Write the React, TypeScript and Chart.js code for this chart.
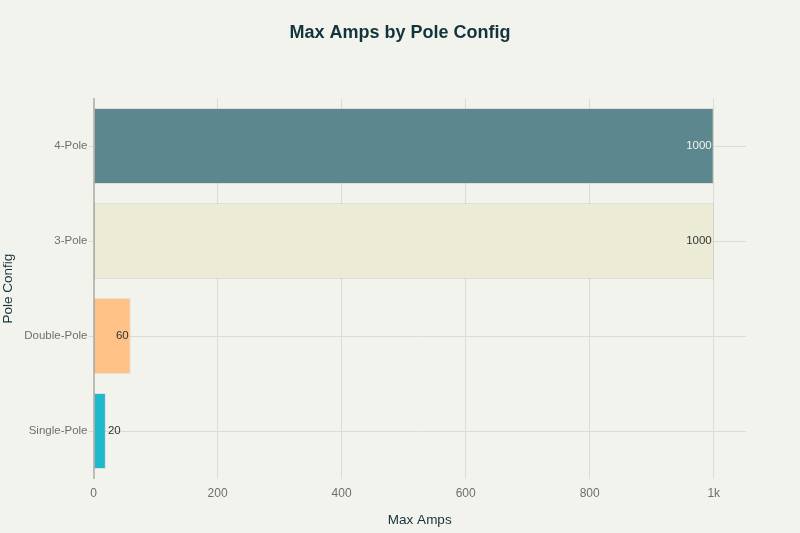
import React, { useRef, useEffect } from 'react';
import Chart from 'chart.js/auto';

const poleConfigs = ['4-Pole', '3-Pole', 'Double-Pole', 'Single-Pole'];
const maxAmps = [1000, 1000, 60, 20];
const barColors = ['#5D878F', '#ECEBD5', '#FFC185', '#1FB8CD'];
const labelColors = ['#F3F3EE', '#333333', '#333333', '#333333'];
const xTickValues = [0, 200, 400, 600, 800, 1000];
const xTickLabels = ['0', '200', '400', '600', '800', '1k'];

const bgColor = '#F3F3EE';
const gridColor = '#DCDCD6';
const fontFamily = '"Liberation Sans", Arial, sans-serif';

// fills the canvas background
const background = {
  id: 'background',
  beforeDraw(chart: any) {
    const ctx = chart.ctx;
    ctx.save();
    ctx.fillStyle = bgColor;
    ctx.fillRect(0, 0, chart.width, chart.height);
    ctx.restore();
  },
};

// value labels: inside the bar end if they fit, else just outside
const barLabels = {
  id: 'barLabels',
  afterDatasetsDraw(chart: any) {
    const ctx = chart.ctx;
    const meta = chart.getDatasetMeta(0);
    ctx.save();
    ctx.font = `11.5px ${fontFamily}`;
    ctx.textBaseline = 'middle';
    meta.data.forEach((bar: any, i: number) => {
      const text = String(maxAmps[i]);
      const w = ctx.measureText(text).width;
      const barLen = bar.x - bar.base;
      if (w + 6 < barLen) {
        ctx.textAlign = 'right';
        ctx.fillStyle = labelColors[i];
        ctx.fillText(text, bar.x - 2, bar.y);
      } else {
        ctx.textAlign = 'left';
        ctx.fillStyle = '#333333';
        ctx.fillText(text, bar.x + 2, bar.y);
      }
    });
    ctx.restore();
  },
};

const App: React.FC = () => {
  const canvasRef = useRef<HTMLCanvasElement | null>(null);

  useEffect(() => {
    document.body.style.margin = '0';
    document.body.style.background = bgColor;
    if (!canvasRef.current) return;
    const chart = new Chart(canvasRef.current, {
      type: 'bar',
      data: {
        labels: poleConfigs,
        datasets: [
          {
            data: maxAmps,
            backgroundColor: barColors,
            borderColor: 'rgba(0,0,0,0.08)',
            borderWidth: 1,
            borderSkipped: false,
            categoryPercentage: 1,
            barPercentage: 0.8,
          },
        ],
      },
      options: {
        indexAxis: 'y',
        responsive: false,
        animation: false,
        layout: { padding: 0 },
        scales: {
          x: {
            type: 'linear',
            min: 0,
            max: 1052,
            afterBuildTicks: (scale: any) => {
              scale.ticks = xTickValues.map((v) => ({ value: v }));
            },
            afterFit: (scale: any) => {
              scale.height = 54.5;
            },
            ticks: {
              padding: 8,
              color: '#6E6E6E',
              font: { family: fontFamily, size: 12 },
              callback: (value: any) => xTickLabels[xTickValues.indexOf(Number(value))] ?? '',
            },
            grid: {
              color: (c: any) => (c.tick && c.tick.value === 0 ? 'rgba(0,0,0,0)' : gridColor),
              lineWidth: 1,
              drawTicks: false,
            },
            border: { display: false },
            title: {
              display: true,
              text: 'Max Amps',
              color: '#13343B',
              font: { family: fontFamily, size: 13.5 },
              padding: { top: 0, bottom: 5 },
            },
          },
          y: {
            afterFit: (scale: any) => {
              scale.width = 93.5;
            },
            ticks: {
              padding: 1,
              color: '#6E6E6E',
              font: { family: fontFamily, size: 11.5 },
            },
            grid: {
              offset: false,
              color: gridColor,
              lineWidth: 1,
              tickLength: 5,
            },
            border: { display: true, color: '#BDBDB8', width: 2 },
            title: {
              display: true,
              text: 'Pole Config',
              color: '#13343B',
              font: { family: fontFamily, size: 13.5 },
              padding: { top: 0, bottom: 0 },
            },
          },
          // empty right-hand margin so the title stays centred on the page
          yRight: {
            type: 'category',
            position: 'right',
            afterFit: (scale: any) => {
              scale.width = 54;
            },
            ticks: { display: false },
            grid: { display: false },
            border: { display: false },
          },
        },
        plugins: {
          legend: { display: false },
          tooltip: { enabled: false },
          title: {
            display: true,
            text: 'Max Amps by Pole Config',
            color: '#13343B',
            font: { family: fontFamily, size: 18, weight: 'bold' },
            padding: { top: 22, bottom: 55 },
          },
        },
      },
      plugins: [background, barLabels],
    });
    return () => {
      chart.destroy();
    };
  }, []);

  return (
    <div style={{ width: 800, height: 533 }}>
      <canvas ref={canvasRef} width={800} height={533} style={{ display: 'block' }} />
    </div>
  );
};

export default App;
